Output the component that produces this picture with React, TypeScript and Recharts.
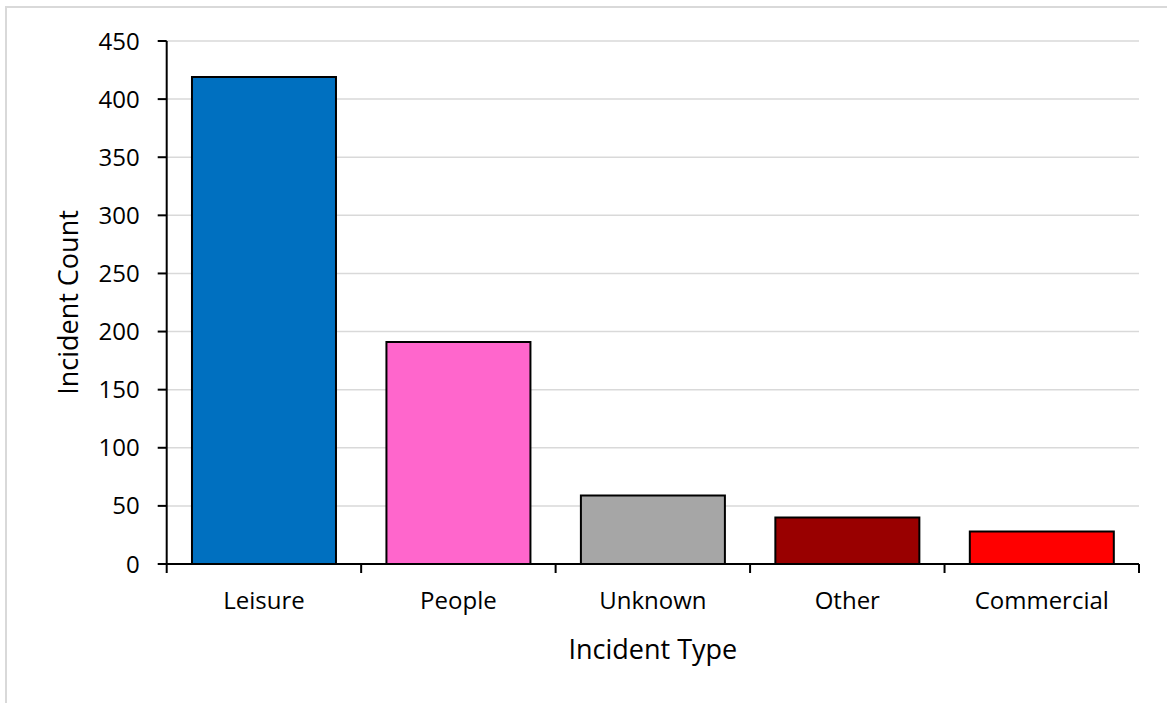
import { BarChart, Bar, XAxis, YAxis, CartesianGrid, Cell, Label } from "recharts";

// incident counts by type
const categories = ["Leisure", "People", "Unknown", "Other", "Commercial"];
const counts = [419, 191, 59, 40, 28];
const barColors = ["#0070C0", "#FF66CC", "#A6A6A6", "#990000", "#FF0000"];
const yTicks = [0, 50, 100, 150, 200, 250, 300, 350, 400, 450];

const data = categories.map((name, i) => ({ name, count: counts[i] }));

const font = "'Open Sans', sans-serif";
const X_TICK_MARGIN = 28;
const TICK_LEN = 9;

// category label plus tick marks at the band edges (Excel style)
const CategoryTick = (props: any) => {
  const { x, y, payload, index, visibleTicksCount } = props;
  const half = payload.offset || 0;
  const axisY = y - X_TICK_MARGIN;
  const last = index === visibleTicksCount - 1;
  return (
    <g>
      <line x1={x - half} x2={x - half} y1={axisY} y2={axisY + TICK_LEN} stroke="#000" strokeWidth={2} />
      {last && <line x1={x + half} x2={x + half} y1={axisY} y2={axisY + TICK_LEN} stroke="#000" strokeWidth={2} />}
      <text x={x} y={y} dy="0.71em" textAnchor="middle" fill="#000" fontSize={24} fontFamily={font}>
        {payload.value}
      </text>
    </g>
  );
};

const App = () => {
  return (
    <div style={{ position: "absolute", left: 0, top: 0, width: 1167, height: 703, overflow: "hidden", background: "#fff" }}>
      <div style={{ position: "absolute", left: 5, top: 6, width: 1300, height: 900, border: "2px solid #d9d9d9" }} />
      <BarChart
        width={1167}
        height={703}
        data={data}
        margin={{ top: 41, right: 28, left: 20, bottom: 29 }}
        barCategoryGap="13%"
        style={{ position: "absolute", left: 0, top: 0, fontFamily: font }}
      >
        <CartesianGrid vertical={false} stroke="#d9d9d9" strokeWidth={1.5} />
        <XAxis
          dataKey="name"
          height={110}
          interval={0}
          axisLine={{ stroke: "#000", strokeWidth: 2 }}
          tickLine={false}
          tickSize={0}
          tickMargin={X_TICK_MARGIN}
          tick={<CategoryTick />}
        >
          <Label value="Incident Type" position="insideBottom" offset={15} style={{ fill: "#000", fontSize: 27, fontFamily: font }} />
        </XAxis>
        <YAxis
          domain={[0, 450]}
          ticks={yTicks}
          width={146.7}
          interval={0}
          tickSize={TICK_LEN}
          tickMargin={18}
          axisLine={{ stroke: "#000", strokeWidth: 2 }}
          tickLine={{ stroke: "#000", strokeWidth: 2 }}
          tick={{ fill: "#000", fontSize: 24, fontFamily: font }}
        >
          <Label
            value="Incident Count"
            angle={-90}
            position="insideLeft"
            offset={48}
            style={{ fill: "#000", fontSize: 27, fontFamily: font, textAnchor: "middle" }}
          />
        </YAxis>
        <Bar dataKey="count" stroke="#000" strokeWidth={2} isAnimationActive={false}>
          {data.map((d, i) => (
            <Cell key={d.name} fill={barColors[i]} />
          ))}
        </Bar>
      </BarChart>
    </div>
  );
};

export default App;
